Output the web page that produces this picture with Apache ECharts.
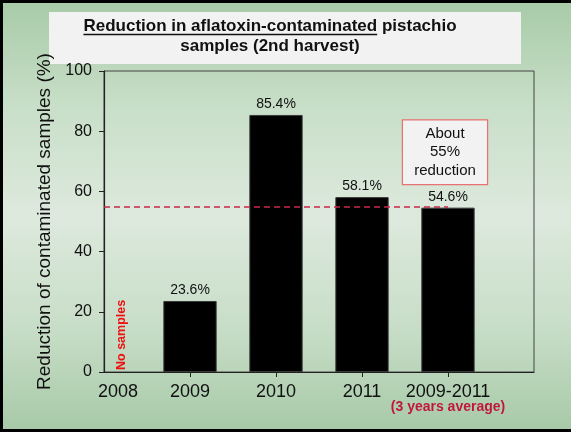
<!DOCTYPE html>
<html>
<head>
<meta charset="utf-8">
<script src="https://cdn.jsdelivr.net/npm/echarts@6/dist/echarts.min.js"></script>
<style>
  html, body { margin: 0; padding: 0; background: #ffffff; }
  #wrap { position: relative; width: 571px; height: 435px; overflow: hidden; background: #ffffff; }
  #panel {
    position: absolute; left: 0; top: 0; width: 580px; height: 432px;
    box-sizing: border-box; border: 3px solid #000;
    background: linear-gradient(to bottom, #a8cba8 0%, #c9dfc9 25%, #dde9dd 50%, #c9dec9 75%, #a8caa8 100%);
  }
  #chart { position: absolute; left: 0; top: 0; width: 571px; height: 435px; }
</style>
</head>
<body>
<div id="wrap">
  <div id="panel"></div>
  <div id="chart"></div>
</div>
<script>
// Harvest years on the x axis (trailing blank slot pads the plot frame)
const categories = ['2008', '2009', '2010', '2011', '2009-2011', ''];
// Reduction of contaminated samples, percent (2008: no samples)
const reduction = [null, 23.6, 85.4, 58.1, 54.6, null];
// Y axis ticks
const yTicks = { min: 0, max: 100, step: 20 };
// Reference level for the 3-year average
const averageLevel = 55;
const titleLines = ['Reduction in aflatoxin-contaminated pistachio', 'samples (2nd harvest)'];
const titleUnderlined = 'Reduction in aflatoxin-contaminated';
const noteLines = ['About', '55%', 'reduction'];

const FONT = '"Liberation Sans", Arial, sans-serif';
const chart = echarts.init(document.getElementById('chart'), null, { renderer: 'canvas' });

// Heading: light box, two bold lines, first part underlined
function headingGraphics() {
  const ctx = document.createElement('canvas').getContext('2d');
  ctx.font = 'bold 17px ' + FONT;
  const full = ctx.measureText(titleLines[0]).width;
  const part = ctx.measureText(titleUnderlined).width;
  const x0 = 270 - full / 2;
  return [
    {
      type: 'rect', z: 0,
      shape: { x: 49, y: 12, width: 472, height: 52 },
      style: { fill: '#f2f2f2' }
    },
    {
      type: 'text', z: 1, x: 270, y: 26,
      style: { text: titleLines[0], fill: '#111', font: 'bold 17px ' + FONT, textAlign: 'center', textVerticalAlign: 'middle' }
    },
    {
      type: 'text', z: 1, x: 270, y: 46,
      style: { text: titleLines[1], fill: '#111', font: 'bold 17px ' + FONT, textAlign: 'center', textVerticalAlign: 'middle' }
    },
    {
      type: 'line', z: 1,
      shape: { x1: x0, y1: 34.5, x2: x0 + part, y2: 34.5 },
      style: { stroke: '#111', lineWidth: 1.5 }
    }
  ];
}

const option = {
  backgroundColor: 'transparent',
  animation: false,
  textStyle: { fontFamily: FONT },
  grid: {
    left: 104, right: 37, top: 71, bottom: 63,
    show: true, borderColor: '#444', borderWidth: 1, backgroundColor: 'transparent'
  },
  xAxis: {
    type: 'category',
    data: categories,
    boundaryGap: false,
    axisLine: { lineStyle: { color: '#222', width: 1.2 } },
    axisTick: {
      length: 5, lineStyle: { color: '#222' },
      interval: (i) => i >= 1 && i <= 4
    },
    axisLabel: {
      interval: 0,
      margin: 9,
      color: '#111',
      formatter: (v, i) => {
        if (v === '2009-2011') return '{a|' + v + '}\n{b|(3 years average)}';
        if (i === 0) return '{s|' + v + '}';
        return '{a|' + v + '}';
      },
      rich: {
        a: { fontSize: 18, lineHeight: 22, color: '#111', fontFamily: FONT },
        s: { fontSize: 18, lineHeight: 22, color: '#111', fontFamily: FONT, padding: [0, 0, 0, 28] },
        b: { fontSize: 14, lineHeight: 8, fontWeight: 'bold', color: '#c0183c', fontFamily: FONT }
      }
    }
  },
  yAxis: {
    type: 'value',
    min: yTicks.min, max: yTicks.max, interval: yTicks.step,
    name: 'Reduction of contaminated samples (%)',
    nameLocation: 'middle',
    nameGap: 50,
    nameTextStyle: { fontSize: 19, color: '#111', fontFamily: FONT },
    axisLine: { show: true, lineStyle: { color: '#222', width: 1.2 } },
    axisTick: { show: true, length: 5, lineStyle: { color: '#222' } },
    axisLabel: { fontSize: 16, color: '#111', margin: 12 },
    splitLine: { show: false }
  },
  series: [{
    type: 'bar',
    data: reduction,
    barWidth: '62%',
    itemStyle: { color: '#000', borderColor: '#3a3a3a', borderWidth: 1 },
    label: {
      show: true, position: 'top', distance: 4,
      fontSize: 14, color: '#111',
      formatter: (p) => p.value.toFixed(1) + '%'
    },
    markLine: {
      silent: true,
      symbol: ['none', 'none'],
      label: { show: false },
      lineStyle: { color: '#c8284a', type: [6, 4], width: 1.5 },
      data: [[
        { coord: [categories[0], averageLevel] },
        { coord: [categories[4], averageLevel] }
      ]]
    },
    markPoint: {
      silent: true,
      data: [
        {
          coord: [categories[0], 0],
          symbolSize: 0,
          label: {
            show: true, formatter: 'No samples', rotate: 90,
            position: 'inside', align: 'left', verticalAlign: 'middle',
            offset: [2, 18],
            fontSize: 12.5, fontWeight: 'bold', color: '#ee1111'
          }
        },
        {
          coord: [categories[4], 73],
          symbolSize: 0,
          label: {
            show: true, formatter: noteLines.join('\n'),
            position: 'inside', align: 'center', verticalAlign: 'middle',
            offset: [-3, 0],
            fontSize: 15, lineHeight: 18.5, color: '#111',
            backgroundColor: '#f2f2f2', borderColor: '#e87272', borderWidth: 1.2,
            padding: [4, 8, 4, 8], width: 68
          }
        }
      ]
    }
  }],
  graphic: headingGraphics()
};

chart.setOption(option);
</script>
</body>
</html>
